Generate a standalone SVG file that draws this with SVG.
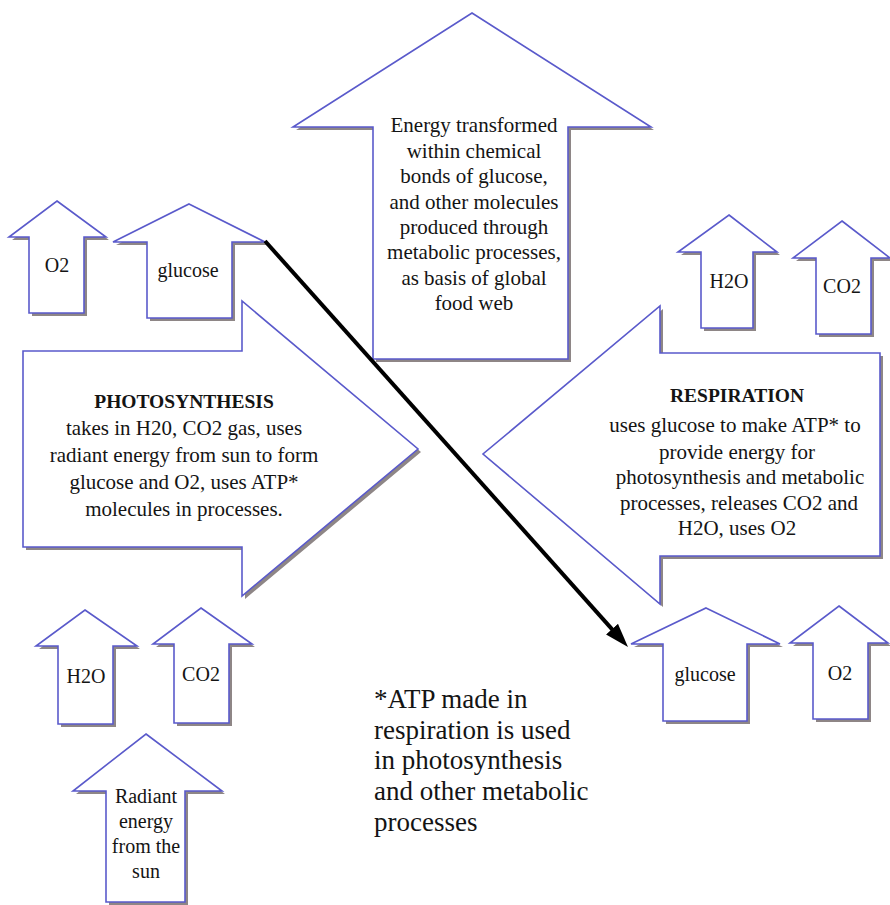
<svg xmlns="http://www.w3.org/2000/svg" width="890" height="905" viewBox="0 0 890 905">
<style>
.bg{fill:#ffffff}
.sh{fill:#8e8686;stroke:none}
.sp{fill:#ffffff;stroke:#5a5acb;stroke-width:1.6;stroke-linejoin:miter}
.t{font-family:"Liberation Serif","Times New Roman",serif;fill:#141414;text-anchor:middle;font-size:21px}
.s{font-size:20px}
.b{font-weight:bold;font-size:19.5px}
.f{font-family:"Liberation Serif","Times New Roman",serif;fill:#141414;font-size:27px}
.con{stroke:#000;stroke-width:4;fill:none}
</style>
<defs>
<marker id="ah" viewBox="0 0 12 8" refX="6" refY="4" markerWidth="6" markerHeight="4" orient="auto" markerUnits="strokeWidth">
<path d="M0,0 L12,4 L0,8 Z" fill="#000"/>
</marker>
</defs>
<rect class="bg" x="0" y="0" width="890" height="905"/>

<g id="big-energy">
<path class="sh" transform="translate(3,3)" d="M472,13 L651,127 L568,127 L568,359 L373,359 L373,127 L293,127 Z"/>
<path class="sp" d="M472,13 L651,127 L568,127 L568,359 L373,359 L373,127 L293,127 Z"/>
<text class="t"><tspan x="474" y="132">Energy transformed</tspan><tspan x="474" y="157.5">within chemical</tspan><tspan x="474" y="183">bonds of glucose,</tspan><tspan x="474" y="208.5">and other molecules</tspan><tspan x="474" y="234">produced through</tspan><tspan x="474" y="259">metabolic processes,</tspan><tspan x="474" y="284.5">as basis of global</tspan><tspan x="474" y="310">food web</tspan></text>
</g>

<g id="o2-top">
<path class="sh" transform="translate(3,3)" d="M57,201 L106,237 L84,237 L84,313 L29,313 L29,237 L9,237 Z"/>
<path class="sp" d="M57,201 L106,237 L84,237 L84,313 L29,313 L29,237 L9,237 Z"/>
<text class="t s" x="57" y="272">O2</text>
</g>

<g id="glucose-top">
<path class="sh" transform="translate(3,3)" d="M189,204 L265,242 L232,242 L232,318 L147,318 L147,242 L113,242 Z"/>
<path class="sp" d="M189,204 L265,242 L232,242 L232,318 L147,318 L147,242 L113,242 Z"/>
<text class="t s" x="188" y="277">glucose</text>
</g>

<g id="h2o-top">
<path class="sh" transform="translate(3,3)" d="M729,215 L777,252 L753,252 L753,328 L701,328 L701,252 L678,252 Z"/>
<path class="sp" d="M729,215 L777,252 L753,252 L753,328 L701,328 L701,252 L678,252 Z"/>
<text class="t s" x="729" y="288">H2O</text>
</g>

<g id="co2-top">
<path class="sh" transform="translate(3,3)" d="M842,221 L890,258 L871,258 L871,334 L816,334 L816,258 L793,258 Z"/>
<path class="sp" d="M842,221 L890,258 L871,258 L871,334 L816,334 L816,258 L793,258 Z"/>
<text class="t s" x="842" y="293">CO2</text>
</g>

<g id="photosynthesis">
<path class="sh" transform="translate(3,3)" d="M23,351 L242,351 L242,301 L418,449 L242,596 L242,547 L23,547 Z"/>
<path class="sp" d="M23,351 L242,351 L242,301 L418,449 L242,596 L242,547 L23,547 Z"/>
<text class="t"><tspan class="b" x="184" y="408">PHOTOSYNTHESIS</tspan><tspan x="184" y="435">takes in H20, CO2 gas, uses</tspan><tspan x="184" y="462">radiant energy from sun to form</tspan><tspan x="184" y="489">glucose and O2, uses  ATP*</tspan><tspan x="184" y="516">molecules in processes.</tspan></text>
</g>

<g id="respiration">
<path class="sh" transform="translate(3,3)" d="M880,353 L660,353 L660,306 L483,454 L660,604 L660,556 L880,556 Z"/>
<path class="sp" d="M880,353 L660,353 L660,306 L483,454 L660,604 L660,556 L880,556 Z"/>
<text class="t"><tspan class="b" x="737" y="402">RESPIRATION</tspan><tspan x="735" y="432">uses glucose to make ATP* to</tspan><tspan x="737" y="459">provide energy for</tspan><tspan x="740" y="484">photosynthesis and metabolic</tspan><tspan x="739" y="510">processes, releases CO2 and</tspan><tspan x="737" y="535">H2O, uses O2</tspan></text>
</g>

<g id="glucose-bottom">
<path class="sh" transform="translate(3,3)" d="M706,608 L780,644 L747,644 L747,721 L663,721 L663,644 L631,644 Z"/>
<path class="sp" d="M706,608 L780,644 L747,644 L747,721 L663,721 L663,644 L631,644 Z"/>
<text class="t s" x="705" y="681">glucose</text>
</g>

<g id="o2-bottom">
<path class="sh" transform="translate(3,3)" d="M839,606 L888,643 L868,643 L868,719 L813,719 L813,643 L790,643 Z"/>
<path class="sp" d="M839,606 L888,643 L868,643 L868,719 L813,719 L813,643 L790,643 Z"/>
<text class="t s" x="840" y="680">O2</text>
</g>

<g id="h2o-bottom">
<path class="sh" transform="translate(3,3)" d="M85,610 L137,646 L113,646 L113,724 L58,724 L58,646 L36,646 Z"/>
<path class="sp" d="M85,610 L137,646 L113,646 L113,724 L58,724 L58,646 L36,646 Z"/>
<text class="t s" x="86" y="683">H2O</text>
</g>

<g id="co2-bottom">
<path class="sh" transform="translate(3,3)" d="M201,608 L252,644 L229,644 L229,723 L174,723 L174,644 L153,644 Z"/>
<path class="sp" d="M201,608 L252,644 L229,644 L229,723 L174,723 L174,644 L153,644 Z"/>
<text class="t s" x="201" y="681">CO2</text>
</g>

<g id="radiant">
<path class="sh" transform="translate(3,3)" d="M146,734 L222,791 L185,791 L185,902 L106,902 L106,791 L73,791 Z"/>
<path class="sp" d="M146,734 L222,791 L185,791 L185,902 L106,902 L106,791 L73,791 Z"/>
<text class="t s"><tspan x="146" y="803">Radiant</tspan><tspan x="146" y="828">energy</tspan><tspan x="146" y="853">from the</tspan><tspan x="146" y="878">sun</tspan></text>
</g>

<g id="footnote">
<text class="f"><tspan x="374" y="708">*ATP made in</tspan><tspan x="374" y="739">respiration is used</tspan><tspan x="374" y="769">in photosynthesis</tspan><tspan x="374" y="800">and other metabolic</tspan><tspan x="374" y="831">processes</tspan></text>
</g>

<g id="connectors">
<line class="con" x1="265" y1="241" x2="620" y2="638.1" marker-end="url(#ah)"/>
</g>
</svg>
